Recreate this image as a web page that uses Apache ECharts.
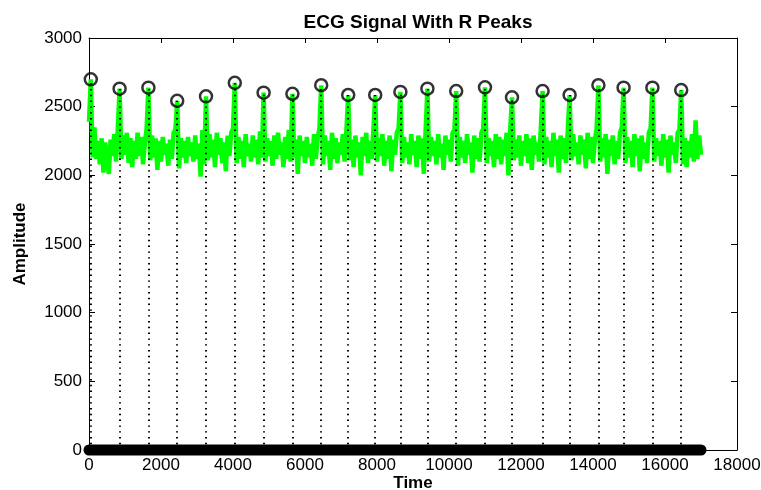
<!DOCTYPE html>
<html>
<head>
<meta charset="utf-8">
<script src="https://cdn.jsdelivr.net/npm/echarts@6/dist/echarts.min.js"></script>
<style>
html,body{margin:0;padding:0;background:#fff;}
#chart{width:761px;height:490px;}
</style>
</head>
<body>
<div id="chart"></div>
<script>
// ---- data ----
const titleText = 'ECG Signal With R Peaks';
const xAxisName = 'Time';
const yAxisName = 'Amplitude';
const xTicks = [0, 2000, 4000, 6000, 8000, 10000, 12000, 14000, 16000, 18000];
const yTicks = [0, 500, 1000, 1500, 2000, 2500, 3000];

// ECG signal, one value every 50 time units, from t = 0 to t = 17000
const sampleStep = 50;
const signalValues = [
  2390,2699,2130,2350,2120,2250,2080,2270,2020,2240,2110,2010,2260,2140,2300,2100,2340,2631,2120,2290,
  2150,2310,2090,2270,2060,2250,2120,2310,2140,2280,2080,2230,2340,2638,2110,2290,2130,2270,2040,2250,
  2100,2280,2150,2230,2070,2260,2120,2310,2330,2543,2050,2270,2130,2250,2090,2280,2140,2240,2100,2290,
  2120,2230,1990,2330,2080,2575,2110,2300,2130,2260,2060,2310,2150,2270,2090,2240,2030,2290,2140,2310,
  2340,2674,2090,2280,2120,2250,2060,2300,2140,2230,2100,2290,2130,2260,2080,2320,2130,2602,2100,2270,
  2140,2250,2070,2290,2120,2310,2150,2240,2060,2280,2120,2330,2100,2594,2130,2260,2010,2290,2140,2250,
  2090,2280,2130,2230,2070,2300,2120,2270,2340,2656,2080,2290,2140,2250,2040,2310,2120,2270,2090,2240,
  2150,2300,2100,2330,2585,2110,2260,2060,2290,2130,2240,2000,2280,2140,2310,2090,2250,2120,2330,2585,
  2100,2270,2140,2300,2070,2250,2120,2290,2030,2260,2150,2310,2340,2607,2090,2280,2130,2240,2080,2300,
  2150,2250,2060,2290,2120,2270,2010,2320,2631,2100,2280,2140,2250,2080,2300,2130,2230,2040,2290,2150,
  2260,2100,2310,2330,2614,2070,2280,2130,2250,2090,2300,2150,2240,2020,2290,2120,2270,2100,2310,2340,
  2641,2090,2270,2140,2250,2060,2300,2120,2280,2080,2260,2140,2310,2000,2330,2568,2110,2260,2130,2290,
  2070,2250,2140,2300,2090,2270,2040,2290,2150,2240,2100,2340,2614,2080,2280,2130,2250,2060,2310,2140,
  2260,2020,2290,2120,2270,2090,2330,2585,2110,2300,2140,2240,2080,2290,2150,2260,2050,2310,2120,2280,
  2090,2250,2340,2656,2100,2270,2130,2300,2010,2260,2140,2290,2080,2250,2120,2310,2350,2638,2090,2280,
  2130,2250,2060,2300,2140,2270,2030,2290,2120,2240,2090,2310,2340,2638,2100,2270,2140,2250,2070,2300,
  2130,2260,2020,2290,2150,2240,2090,2310,2330,2621,2080,2270,2060,2250,2130,2300,2100,2400,2120,2290,
  2150
];

// detected R peaks
const peakTimes  = [50, 850, 1650, 2450, 3250, 4050, 4850, 5650, 6450, 7200, 7950,
                    8650, 9400, 10200, 11000, 11750, 12600, 13350, 14150, 14850, 15650, 16450];
const peakValues = [2699, 2631, 2638, 2543, 2575, 2674, 2602, 2594, 2656, 2585, 2585,
                    2607, 2631, 2614, 2641, 2568, 2614, 2585, 2656, 2638, 2638, 2621];

// ---- build ----
const signalData = signalValues.map((v, i) => [i * sampleStep, v]);
const tStart = 0;
const tEnd = (signalValues.length - 1) * sampleStep;
const zeroMarkerData = [[tStart, 0], [tEnd, 0]];
const stemData = peakTimes.map((t, i) => ({ coords: [[t, 0], [t, peakValues[i]]] }));
const peakData = peakTimes.map((t, i) => [t, peakValues[i]]);

const FONT = "'Liberation Sans', Arial, Helvetica, sans-serif";
const labelStyle = { color: '#000', fontSize: 17, fontFamily: FONT, formatter: v => String(v) };

function xAx(pos, showLabels) {
  return {
    type: 'value', position: pos, min: xTicks[0], max: xTicks[xTicks.length - 1],
    interval: xTicks[1] - xTicks[0],
    axisLine: { show: true, onZero: false, lineStyle: { color: '#000', width: 1 } },
    axisTick: { show: true, inside: true, length: 5, lineStyle: { color: '#000' } },
    axisLabel: Object.assign({ show: showLabels, margin: 7 }, labelStyle),
    splitLine: { show: false },
    name: showLabels ? xAxisName : '',
    nameLocation: 'middle', nameGap: 25, nameMoveOverlap: false,
    nameTextStyle: { color: '#000', fontSize: 17, fontWeight: 'bold', fontFamily: FONT }
  };
}
function yAx(pos, showLabels) {
  return {
    type: 'value', position: pos, min: yTicks[0], max: yTicks[yTicks.length - 1],
    interval: yTicks[1] - yTicks[0],
    axisLine: { show: true, onZero: false, lineStyle: { color: '#000', width: 1 } },
    axisTick: { show: true, inside: true, length: 6, lineStyle: { color: '#000' } },
    axisLabel: Object.assign({ show: showLabels, margin: 7 }, labelStyle),
    splitLine: { show: false },
    name: showLabels ? yAxisName : '',
    nameLocation: 'middle', nameGap: 60, nameRotate: 90, nameMoveOverlap: false,
    nameTextStyle: { color: '#000', fontSize: 17, fontWeight: 'bold', fontFamily: FONT }
  };
}

const chart = echarts.init(document.getElementById('chart'), null, { renderer: 'canvas' });
chart.setOption({
  backgroundColor: '#fff',
  animation: false,
  title: {
    text: titleText, left: 413, top: 8, textAlign: 'center',
    textStyle: { color: '#000', fontSize: 19, fontWeight: 'bold', fontFamily: FONT }
  },
  grid: { left: 89, right: 24, top: 38, bottom: 40, containLabel: false, outerBoundsMode: 'none' },
  xAxis: [xAx('bottom', true), xAx('top', false)],
  yAxis: [yAx('left', true), yAx('right', false)],
  series: [
    {
      type: 'line', data: signalData, showSymbol: false, symbol: 'none',
      lineStyle: { color: '#00ff00', width: 4.5 }, z: 2, sampling: null
    },
    {
      type: 'line', data: zeroMarkerData, showSymbol: false, symbol: 'none', clip: false,
      lineStyle: { color: '#000', width: 11, cap: 'round' }, z: 3
    },
    {
      type: 'lines', coordinateSystem: 'cartesian2d', data: stemData,
      lineStyle: { color: '#000', width: 2, type: [1.4, 4.4], opacity: 1 }, z: 4
    },
    {
      type: 'scatter', data: peakData, symbol: 'circle', symbolSize: 12,
      itemStyle: { color: 'rgba(0,0,0,0)', borderColor: '#000', borderWidth: 2.5 }, z: 5
    }
  ]
});
</script>
</body>
</html>
